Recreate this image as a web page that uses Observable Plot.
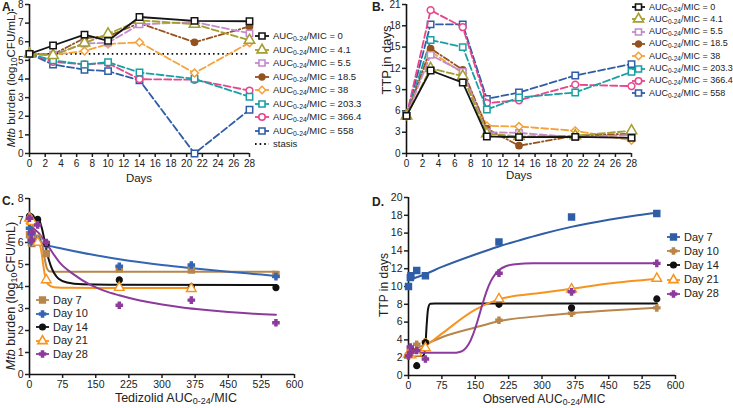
<!DOCTYPE html>
<html><head><meta charset="utf-8">
<script src="https://cdn.jsdelivr.net/npm/d3@7"></script>
<script src="https://cdn.jsdelivr.net/npm/@observablehq/plot@0.6"></script>
<style>
body{margin:0;background:#fff;font-family:"Liberation Sans",Arial,sans-serif;color:#222;}
#root{position:relative;width:733px;height:408px;overflow:hidden;background:#fff;}
.t{position:absolute;white-space:nowrap;line-height:1;}
.rot{transform:translate(-50%,-50%) rotate(-90deg);}
.ctr{transform:translate(-50%,-50%);}
.leg{position:absolute;white-space:nowrap;display:flex;align-items:center;line-height:1;transform:translateY(-50%);}
sub{font-size:72%;vertical-align:-0.25em;line-height:0;}
.letter{position:absolute;font-weight:bold;font-size:12px;}
</style></head><body><div id="root"></div>
<script>
// ---------- DATA ----------
const days = [0, 3, 7, 10, 14, 21, 28];
const aucNames = ["0", "4.1", "5.5", "18.5", "38", "203.3", "366.4", "558"];
const stasisLevel = 5.35;

// Panel A: Mtb burden (log10 CFU/mL) by day, per AUC0-24/MIC
const cfuAUC0     = [5.35, 5.8, 6.38, 6.05, 7.33, 7.12, 7.1];
const cfuAUC4_1   = [5.35, 5.27, 5.93, 6.42, 7.15, 6.94, 6.08];
const cfuAUC5_5   = [5.35, 5.3, 5.9, 5.95, 6.93, 7.06, 6.45];
const cfuAUC18_5  = [5.35, 5.32, 6.2, 6.3, 7.0, 5.97, 6.82];
const cfuAUC38    = [5.35, 5.3, 5.5, 5.88, 5.97, 4.32, 5.95];
const cfuAUC203_3 = [5.35, 5.0, 4.78, 4.9, 4.35, 4.01, 3.05];
const cfuAUC366_4 = [5.35, 4.92, 4.78, 4.85, 3.99, 3.96, 3.38];
const cfuAUC558   = [5.35, 4.78, 4.5, 4.42, 3.93, 0, 2.35];

// Panel B: TTP in days
const ttpAUC0     = [5.3, 11.7, 10.0, 2.4, 2.3, 2.35, 2.2];
const ttpAUC4_1   = [5.3, 12.0, 10.9, 2.8, 2.4, 2.5, 3.2];
const ttpAUC5_5   = [5.3, 13.9, 11.5, 3.0, 2.9, 2.3, 2.6];
const ttpAUC18_5  = [5.3, 14.8, 11.8, 3.5, 1.1, 2.5, 2.8];
const ttpAUC38    = [5.3, 14.4, 11.3, 3.9, 3.8, 3.2, 1.85];
const ttpAUC203_3 = [5.3, 16.0, 15.0, 6.2, 7.9, 8.6, 11.5];
const ttpAUC366_4 = [5.3, 20.2, 17.8, 7.1, 7.5, 9.7, 9.5];
const ttpAUC558   = [5.3, 18.2, 18.2, 7.7, 8.6, 11.0, 12.6];

// Panel C: burden vs tedizolid AUC0-24/MIC
const aucValues = [0, 4.1, 5.5, 18.5, 38, 203.3, 366.4, 558];
const cDay7  = [6.35, 6.0, 5.95, 6.2, 5.5, 4.8, 4.75, 4.55];
const cDay10 = [6.65, 6.4, 6.0, 6.1, 5.9, 4.92, 4.98, 4.45];
const cDay14 = [7.2, 7.15, 6.95, 7.05, 5.95, 4.3, 3.98, 3.95];
const cDay21 = [7.1, 7.0, 6.95, 6.0, 4.3, 3.95, 3.9];
const cDay28 = [7.1, 6.1, 6.45, 6.8, 6.0, 3.15, 3.38, 2.35];
// fitted curves [x, y]
const cFitDay7  = [[0,6.2],[15,6.17],[25,6.05],[30,5.8],[35,5.2],[40,4.8],[46,4.68],[60,4.67],[558,4.67]];
const cFitDay10 = [[0,6.15],[20,6.0],[40,5.87],[75,5.72],[150,5.42],[225,5.17],[300,4.98],[375,4.82],[450,4.67],[525,4.54],[558,4.48]];
const cFitDay14 = [[0,7.12],[15,7.1],[22,7.0],[28,6.65],[34,6.1],[40,5.5],[48,4.95],[56,4.6],[66,4.35],[85,4.18],[120,4.1],[180,4.08],[558,4.07]];
const cFitDay21 = [[0,7.0],[6,6.9],[11,6.5],[16,6.1],[20,6.0],[26,5.7],[31,5.0],[36,4.4],[42,4.1],[55,3.97],[90,3.94],[366.4,3.93]];
const cFitDay28 = [[0,6.75],[20,6.45],[40,5.9],[70,5.05],[100,4.55],[138,4.07],[170,3.8],[203,3.6],[250,3.36],[300,3.18],[342,3.06],[400,2.93],[450,2.84],[500,2.77],[558,2.72]];

// Panel D: TTP vs observed AUC0-24/MIC
const dDay7  = [10.0, 11.0, 11.2, 11.8, 11.2, 15.0, 17.8, 18.2];
const dDay10 = [2.4, 2.8, 2.9, 3.5, 3.8, 6.2, 7.0, 7.6];
const dDay14 = [2.3, 2.4, 2.9, 1.1, 3.7, 8.0, 7.6, 8.6];
const dDay21 = [2.4, 2.5, 2.3, 2.5, 3.1, 8.6, 9.7, 10.9];
const dDay28 = [2.2, 3.2, 2.6, 2.8, 1.85, 11.5, 9.4, 12.6];
const dFitDay7  = [[0,10.7],[38,11.4],[75,12.2],[150,13.6],[203,14.5],[250,15.2],[300,15.9],[366,16.7],[450,17.5],[500,17.9],[558,18.3]];
const dFitDay10 = [[0,2.6],[38,3.5],[75,4.3],[150,5.4],[203,6.1],[300,6.7],[366,7.0],[450,7.3],[558,7.6]];
const dFitDay14 = [[0,2.2],[32,2.2],[35,2.4],[38,3.4],[41,5.8],[44,7.5],[49,8.05],[60,8.08],[558,8.08]];
const dFitDay21 = [[0,2.3],[20,2.7],[38,3.3],[75,4.7],[150,7.4],[203,8.55],[300,9.3],[366,9.75],[450,10.35],[558,10.85]];
const dFitDay28 = [[0,2.55],[100,2.55],[115,2.65],[125,2.9],[135,3.5],[145,4.6],[155,6.1],[165,7.8],[175,9.4],[185,10.6],[195,11.4],[205,11.9],[220,12.3],[240,12.5],[280,12.6],[558,12.6]];

// ---------- STYLES ----------
const FONT = "'Liberation Sans', Arial, sans-serif";
const abStyle = [
  {color:"#151515", symbol:"square",   open:true,  dash:null,        r:3.6},
  {color:"#A39E2D", symbol:"triangle", open:true,  dash:"7,3",       r:3.9},
  {color:"#C38BC9", symbol:"square",   open:true,  dash:"7,3",       r:3.6},
  {color:"#94521F", symbol:"circle",   open:false, dash:"6,2.5,1.5,2.5", r:3.1},
  {color:"#F4A23A", symbol:"diamond2", open:true,  dash:"7,3",       r:3.5},
  {color:"#1AA0A4", symbol:"square",   open:true,  dash:"7,3",       r:3.6},
  {color:"#E8468C", symbol:"circle",   open:true,  dash:"7,3",       r:3.4},
  {color:"#2F5DA6", symbol:"square",   open:true,  dash:"7,3",       r:3.6}
];
const cfuSeries = [cfuAUC0, cfuAUC4_1, cfuAUC5_5, cfuAUC18_5, cfuAUC38, cfuAUC203_3, cfuAUC366_4, cfuAUC558];
const ttpSeries = [ttpAUC0, ttpAUC4_1, ttpAUC5_5, ttpAUC18_5, ttpAUC38, ttpAUC203_3, ttpAUC366_4, ttpAUC558];

const dayNames = ["Day 7", "Day 10", "Day 14", "Day 21", "Day 28"];
const TAN = "#B8864B", BLUE = "#3465B3", BLK = "#111", ORG = "#F7941D", PUR = "#8C3A9B";
const cStyle = [
  {color:TAN, symbol:"square", open:false, r:3.4},
  {color:BLUE, symbol:"cross", open:false, r:2.6},
  {color:BLK, symbol:"circle", open:false, r:2.9},
  {color:ORG, symbol:"triangle", open:true, r:3.6},
  {color:PUR, symbol:"cross", open:false, r:2.6}
];
const dStyle = [
  {color:"#2F5DA6", symbol:"square", open:false, r:3.4},
  {color:TAN, symbol:"cross", open:false, r:2.6},
  {color:BLK, symbol:"circle", open:false, r:2.9},
  {color:ORG, symbol:"triangle", open:true, r:3.6},
  {color:PUR, symbol:"cross", open:false, r:2.6}
];

// ---------- HELPERS ----------
const root = document.getElementById("root");
function put(el, left, top){ el.style.position = "absolute"; el.style.left = left + "px"; el.style.top = top + "px"; root.appendChild(el); return el; }
function text(html, left, top, cls, size, extra){ const d = document.createElement("div"); d.className = "t " + (cls||""); d.innerHTML = html; d.style.fontSize = size + "px"; if (extra) Object.assign(d.style, extra); return put(d, left, top); }
const symMap = {square:d3.symbolSquare, circle:d3.symbolCircle, triangle:d3.symbolTriangle, diamond2:d3.symbolDiamond2, cross:d3.symbolCross};
function swatchSVG(s, w, dash){
  const h = 12, r = s.r * 0.95;
  const p = s.symbol ? d3.symbol(symMap[s.symbol], Math.PI * r * r)() : "";
  return `<svg width="${w}" height="${h}" style="overflow:visible;margin-right:4px"><line x1="0" x2="${w}" y1="${h/2}" y2="${h/2}" stroke="${s.color}" stroke-width="1.8" ${dash ? `stroke-dasharray="${dash}"` : ""}/>` +
    (s.symbol ? `<path transform="translate(${w/2},${h/2})" d="${p}" fill="${s.open ? "#fff" : s.color}" stroke="${s.color}" stroke-width="1.6"/>` : "") + `</svg>`;
}
function legendRow(s, label, left, top, size, w, dash){
  const d = document.createElement("div"); d.className = "leg"; d.style.fontSize = size + "px";
  d.innerHTML = swatchSVG(s, w, dash) + `<span>${label}</span>`;
  return put(d, left, top);
}
const aucLbl = n => `AUC<sub>0-24</sub>/MIC = ${n}`;

function seriesMarks(rows, st){
  return [
    Plot.line(rows, {x:"x", y:"y", stroke:st.color, strokeWidth:1.8, strokeDasharray:st.dash || undefined}),
    Plot.dot(rows, {x:"x", y:"y", symbol:() => st.symbol, r:st.r, stroke:st.color, strokeWidth:1.5, fill: st.open ? "#fff" : st.color})
  ];
}
function axes(xt, yt, fs){
  return [
    Plot.axisX({ticks:xt, tickSize:4, tickPadding:2, label:null, strokeWidth:1.5, fontSize:fs}),
    Plot.axisY({ticks:yt, tickSize:4, tickPadding:2, label:null, strokeWidth:1.5, fontSize:fs}),
    Plot.ruleX([0], {strokeWidth:1.6, stroke:"#111"}),
    Plot.ruleY([0], {strokeWidth:1.6, stroke:"#111"})
  ];
}
const baseStyle = {fontFamily:FONT, fontSize:"10px", color:"#222", background:"transparent", overflow:"visible"};

// ---------- PANEL A ----------
{
  const marks = [...axes(d3.range(0, 29, 2), d3.range(0, 9), 10)];
  marks.push(Plot.ruleY([stasisLevel], {strokeDasharray:"1.6,3", strokeWidth:1.6, stroke:"#111"}));
  for (let i = cfuSeries.length - 1; i >= 0; i--) {
    const rows = days.map((d, j) => ({x:d, y:cfuSeries[i][j]}));
    marks.push(...seriesMarks(rows, abStyle[i]));
  }
  const p = Plot.plot({width:262, height:190, marginLeft:29, marginRight:13, marginTop:4, marginBottom:37,
    x:{domain:[0, 28]}, y:{domain:[0, 8]}, style:baseStyle, marks});
  put(p, 0, 0);
  aucNames.forEach((n, i) => legendRow(abStyle[i], aucLbl(n), 255, 36 + i * 13.5, 9.5, 14));
  legendRow({color:"#111", symbol:null, r:0}, "stasis", 255, 144, 9.5, 14, "1.6,3");
  text("<i>Mtb</i> burden (log<sub>10</sub>CFU/mL)", 12, 79, "rot", 11.5);
  text("Days", 139, 179, "ctr", 11.5);
  text("A.", 2, 1, "letter", 12);
}

// ---------- PANEL B ----------
{
  const marks = [...axes(d3.range(0, 29, 2), d3.range(0, 22, 3), 10)];
  for (let i = ttpSeries.length - 1; i >= 0; i--) {
    const rows = days.map((d, j) => ({x:d, y:ttpSeries[i][j]}));
    marks.push(...seriesMarks(rows, abStyle[i]));
  }
  const p = Plot.plot({width:270, height:190, marginLeft:36, marginRight:9, marginTop:4, marginBottom:37,
    x:{domain:[0, 28]}, y:{domain:[0, 21]}, style:baseStyle, marks});
  put(p, 370, 0);
  aucNames.forEach((n, i) => legendRow(abStyle[i], aucLbl(n), 632, 7 + i * 12.3, 9, 13));
  text("TTP in days", 386, 60, "rot", 13);
  text("Days", 519, 176, "ctr", 11.5);
  text("B.", 372, 1, "letter", 12);
}

// ---------- PANEL C ----------
{
  const cPts = [cDay7, cDay10, cDay14, cDay21, cDay28];
  const cFits = [cFitDay7, cFitDay10, cFitDay14, cFitDay21, cFitDay28];
  const marks = [...axes(d3.range(0, 601, 75), d3.range(0, 9), 10.5)];
  cFits.forEach((f, i) => marks.push(Plot.line(f.map(([x, y]) => ({x, y})), {x:"x", y:"y", stroke:cStyle[i].color, strokeWidth:2, curve:"monotone-x"})));
  cPts.forEach((ys, i) => {
    const rows = ys.map((y, j) => ({x:aucValues[j], y}));
    const st = cStyle[i];
    marks.push(Plot.dot(rows, {x:"x", y:"y", symbol:() => st.symbol, r:st.r, stroke:st.color, strokeWidth:1.4, fill: st.open ? "#fff" : st.color}));
  });
  const p = Plot.plot({width:305, height:210, marginLeft:29, marginRight:11, marginTop:8, marginBottom:26,
    x:{domain:[0, 600]}, y:{domain:[0, 8]}, style:{...baseStyle, fontSize:"10.5px"}, marks});
  put(p, 0, 190);
  dayNames.forEach((n, i) => legendRow(cStyle[i], n, 36, 300 + i * 13.6, 11, 13));
  text("<i>Mtb</i> burden (log<sub>10</sub>CFU/mL)", 11, 296, "rot", 12.5);
  text("Tedizolid AUC<sub>0-24</sub>/MIC", 176, 398, "ctr", 12.5);
  text("C.", 2, 195, "letter", 12);
}

// ---------- PANEL D ----------
{
  const dPts = [dDay7, dDay10, dDay14, dDay21, dDay28];
  const dFits = [dFitDay7, dFitDay10, dFitDay14, dFitDay21, dFitDay28];
  const marks = [...axes(d3.range(0, 601, 75), d3.range(0, 21, 2), 10.5)];
  dFits.forEach((f, i) => marks.push(Plot.line(f.map(([x, y]) => ({x, y})), {x:"x", y:"y", stroke:dStyle[i].color, strokeWidth:2, curve:"monotone-x"})));
  dPts.forEach((ys, i) => {
    const rows = ys.map((y, j) => ({x:aucValues[j], y}));
    const st = dStyle[i];
    marks.push(Plot.dot(rows, {x:"x", y:"y", symbol:() => st.symbol, r:st.r, stroke:st.color, strokeWidth:1.4, fill: st.open ? "#fff" : st.color}));
  });
  const p = Plot.plot({width:320, height:210, marginLeft:38, marginRight:15, marginTop:7, marginBottom:25,
    x:{domain:[0, 600]}, y:{domain:[0, 20]}, style:{...baseStyle, fontSize:"10.5px"}, marks});
  put(p, 370, 190);
  dayNames.forEach((n, i) => legendRow(dStyle[i], n, 667, 237 + i * 14.2, 11, 13));
  text("TTP in days", 384, 285, "rot", 12);
  text("Observed AUC<sub>0-24</sub>/MIC", 544, 399, "ctr", 12);
  text("D.", 372, 196, "letter", 12);
}
</script></body></html>
